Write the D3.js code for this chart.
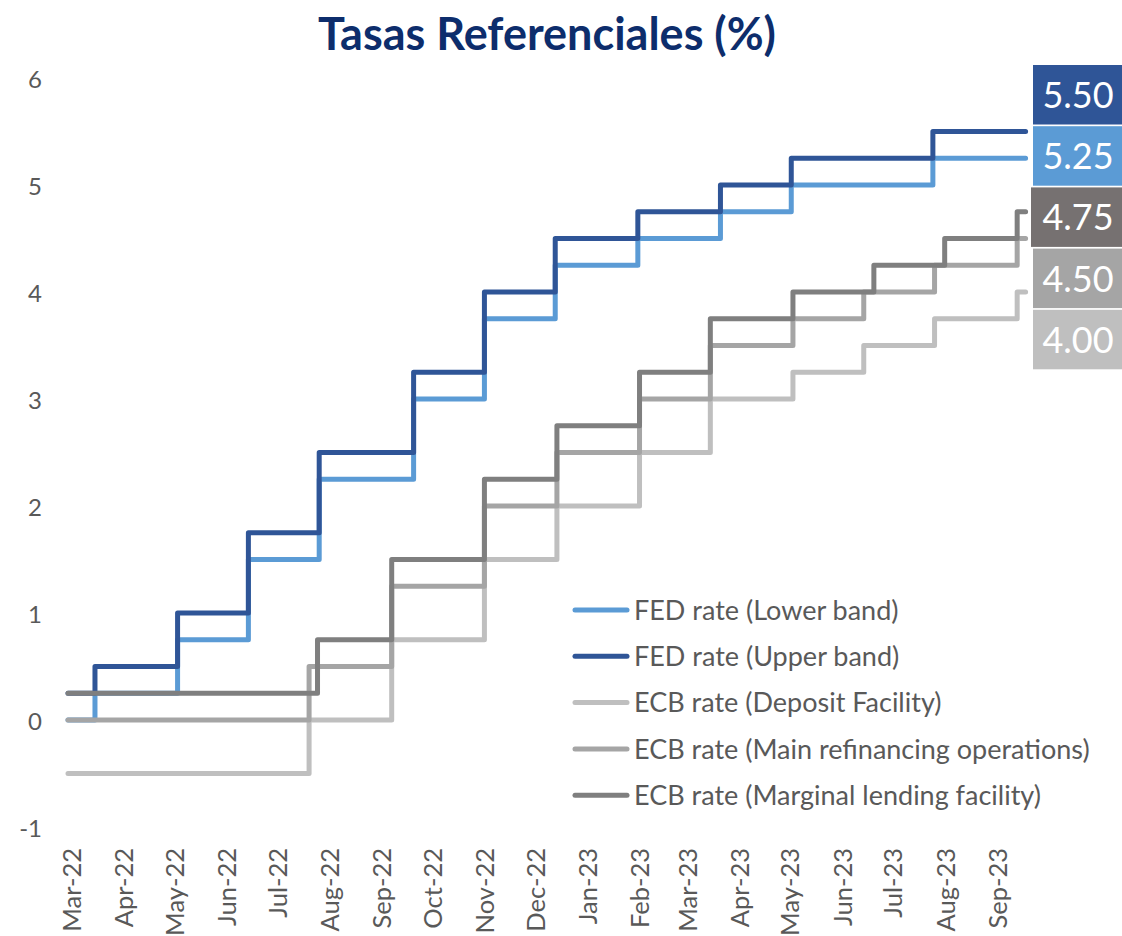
<!DOCTYPE html>
<html>
<head>
<meta charset="utf-8">
<script src="https://cdn.jsdelivr.net/npm/d3@7"></script>
<style>
  body { margin: 0; background: #fff; }
  svg { font-family: Lato, "Open Sans", sans-serif; }
</style>
</head>
<body>
<div id="chart"></div>
<script>
// FED rates (step changes)
var fedDates = ["2022-03-01","2022-03-17","2022-05-05","2022-06-16","2022-07-28","2022-09-22","2022-11-03","2022-12-15","2023-02-02","2023-03-23","2023-05-04","2023-07-27","2023-09-20"];
var fedLower = [0, 0.25, 0.75, 1.5, 2.25, 3.0, 3.75, 4.25, 4.5, 4.75, 5.0, 5.25, 5.25];
var fedUpper = [0.25, 0.5, 1.0, 1.75, 2.5, 3.25, 4.0, 4.5, 4.75, 5.0, 5.25, 5.5, 5.5];

// ECB rates
var ecbDates = ["2022-03-01","2022-07-22","2022-09-09","2022-11-03","2022-12-16","2023-02-03","2023-03-17","2023-05-05","2023-06-16","2023-07-28","2023-09-15","2023-09-20"];
var ecbDeposit = [-0.5, 0, 0.75, 1.5, 2.0, 2.5, 3.0, 3.25, 3.5, 3.75, 4.0, 4.0];
var ecbMain = [0, 0.5, 1.25, 2.0, 2.5, 3.0, 3.5, 3.75, 4.0, 4.25, 4.5, 4.5];
var mlfDates = ["2022-03-01","2022-07-27","2022-09-09","2022-11-03","2022-12-16","2023-02-03","2023-03-17","2023-05-05","2023-06-22","2023-08-03","2023-09-15","2023-09-20"];
var ecbMarginal = [0.25, 0.75, 1.5, 2.25, 2.75, 3.25, 3.75, 4.0, 4.25, 4.5, 4.75, 4.75];

var seriesNames = ["FED rate (Lower band)", "FED rate (Upper band)", "ECB rate (Deposit Facility)", "ECB rate (Main refinancing operations)", "ECB rate (Marginal lending facility)"];
var yTicks = [-1, 0, 1, 2, 3, 4, 5, 6];
var lastLabels = ["5.50", "5.25", "4.75", "4.50", "4.00"];

var seriesColors = ["#5b9bd5", "#2f5597", "#bfbfbf", "#a5a5a5", "#7f7f7f"];
var boxColors = ["#2f5597", "#5b9bd5", "#767171", "#a5a5a5", "#bfbfbf"];

var parse = d3.timeParse("%Y-%m-%d");
function pairs(dates, vals) {
  return dates.map(function(d, i) { return {date: parse(d), v: vals[i]}; });
}
var series = [
  pairs(fedDates, fedLower),
  pairs(fedDates, fedUpper),
  pairs(ecbDates, ecbDeposit),
  pairs(ecbDates, ecbMain),
  pairs(mlfDates, ecbMarginal)
];

var W = 1122, H = 936;
var svg = d3.select("#chart").append("svg")
  .attr("width", W)
  .attr("height", H);

var x = d3.scaleTime()
  .domain([parse("2022-03-01"), parse("2023-09-20")])
  .range([68, 1025.6]);
var y = d3.scaleLinear()
  .domain([-1, 6])
  .range([827, 78]);

// title
svg.append("text")
  .attr("x", 547)
  .attr("y", 50)
  .attr("text-anchor", "middle")
  .style("font-size", "45px")
  .style("font-weight", "bold")
  .style("fill", "#0d2d6c")
  .text("Tasas Referenciales (%)");

// y axis labels
var yAxis = d3.axisLeft(y).tickValues(yTicks).tickFormat(function(d) { return String(d); }).tickSize(0).tickPadding(0);
var gy = svg.append("g")
  .attr("transform", "translate(42,0)")
  .call(yAxis);
gy.select(".domain").remove();
gy.selectAll("text")
  .attr("dy", "0.4em")
  .style("font-size", "24px")
  .style("font-family", "Lato, 'Open Sans', sans-serif")
  .style("fill", "#595959");

// x axis labels, one per month
var months = d3.timeMonth.range(parse("2022-03-01"), parse("2023-09-02"));
var xAxis = d3.axisBottom(x).tickValues(months).tickFormat(d3.timeFormat("%b-%y")).tickSize(0);
var gx = svg.append("g")
  .attr("transform", "translate(0,848)")
  .call(xAxis);
gx.select(".domain").remove();
gx.selectAll("text")
  .attr("transform", "rotate(-90)")
  .attr("text-anchor", "end")
  .attr("x", 0)
  .attr("y", 0)
  .attr("dy", "0.4em")
  .attr("dx", 0)
  .style("font-size", "25.5px")
  .style("font-family", "Lato, 'Open Sans', sans-serif")
  .style("fill", "#595959");
gx.selectAll(".tick").attr("transform", function(d) { return "translate(" + (x(d) + 3) + ",0)"; });

// lines
var line = d3.line()
  .x(function(d) { return x(d.date); })
  .y(function(d) { return y(d.v); })
  .curve(d3.curveStepAfter);

svg.selectAll(".rate")
  .data(series)
  .enter()
  .append("path")
  .attr("class", "rate")
  .attr("d", line)
  .attr("fill", "none")
  .attr("stroke", function(d, i) { return seriesColors[i]; })
  .attr("stroke-width", 5)
  .attr("stroke-linecap", "round")
  .attr("stroke-linejoin", "round");

// legend
var legend = svg.append("g").attr("transform", "translate(575,610)");
var item = legend.selectAll(".item")
  .data(seriesNames)
  .enter()
  .append("g")
  .attr("transform", function(d, i) { return "translate(0," + (i * 46.3) + ")"; });
item.append("line")
  .attr("x1", 0).attr("x2", 52)
  .attr("stroke", function(d, i) { return seriesColors[i]; })
  .attr("stroke-width", 5)
  .attr("stroke-linecap", "round");
item.append("text")
  .attr("x", 59)
  .attr("dy", "0.36em")
  .style("font-size", "27px")
  .style("fill", "#595959")
  .text(function(d) { return d; });

// last value boxes on the right
var boxes = svg.selectAll(".last")
  .data(lastLabels)
  .enter()
  .append("g")
  .attr("class", "last")
  .attr("transform", function(d, i) { return "translate(1033," + (65 + i * 61.2) + ")"; });
boxes.append("rect")
  .attr("x", function(d, i) { return i == 2 ? -2 : 0; })
  .attr("width", 95)
  .attr("height", 59.5)
  .attr("fill", function(d, i) { return boxColors[i]; });
boxes.append("text")
  .attr("x", 45)
  .attr("y", 30)
  .attr("dy", "0.36em")
  .attr("text-anchor", "middle")
  .style("font-size", "36px")
  .style("fill", "#fff")
  .text(function(d) { return d; });
</script>
</body>
</html>
